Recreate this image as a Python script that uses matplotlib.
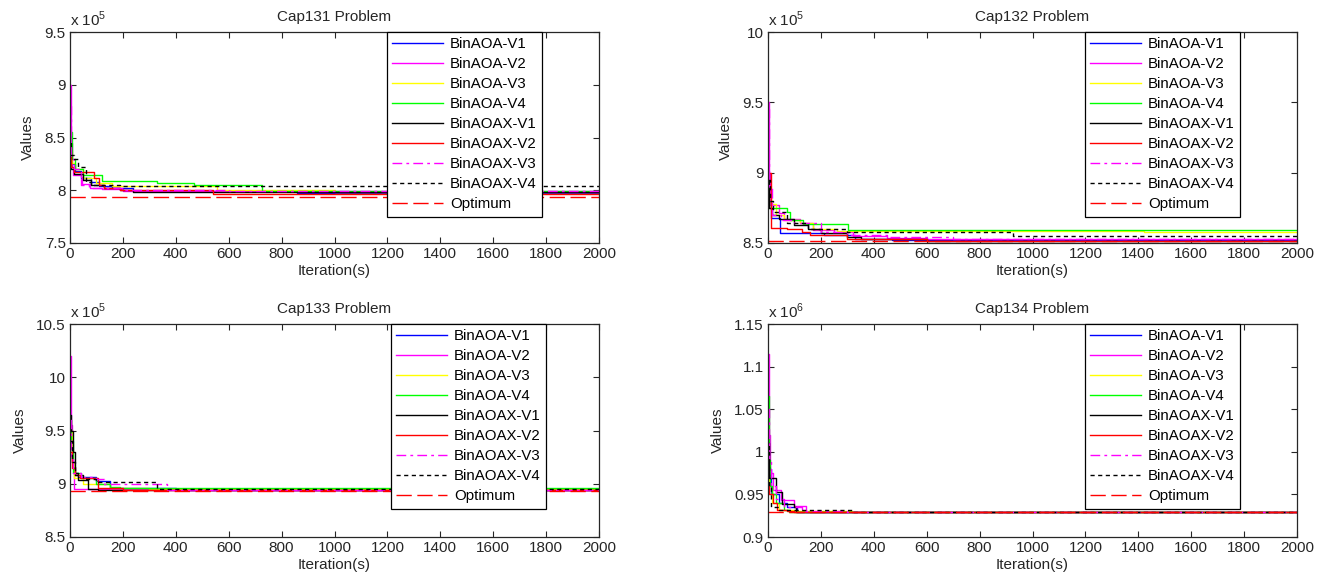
import matplotlib
matplotlib.use('Agg')
import matplotlib.pyplot as plt
from matplotlib.ticker import FuncFormatter

plt.rcParams['font.family'] = ['Liberation Sans', 'DejaVu Sans']
plt.rcParams['font.size'] = 11
plt.rcParams['mathtext.fontset'] = 'custom'
plt.rcParams['mathtext.rm'] = 'Liberation Sans'

MAX_ITER = 2000

labels = ['BinAOA-V1', 'BinAOA-V2', 'BinAOA-V3', 'BinAOA-V4',
          'BinAOAX-V1', 'BinAOAX-V2', 'BinAOAX-V3', 'BinAOAX-V4']
optimum_label = 'Optimum'

titles = ['Cap131 Problem', 'Cap132 Problem', 'Cap133 Problem', 'Cap134 Problem']
optimum = [793439.56, 851495.33, 893076.71, 928941.75]
exponents = [5, 5, 5, 6]
y_limits = [(7.5, 9.5), (8.5, 10.0), (8.5, 10.5), (0.9, 1.15)]
y_ticks = [[7.5, 8, 8.5, 9, 9.5],
           [8.5, 9, 9.5, 10],
           [8.5, 9, 9.5, 10, 10.5],
           [0.9, 0.95, 1, 1.05, 1.1, 1.15]]
x_ticks = list(range(0, 2001, 200))

# best value found so far: (iteration where it changes, new value)
cap131_aoa_v1 = [(0, 842000), (5, 825000), (20, 818000), (40, 812000), (80, 808000), (110, 804000), (160, 802000), (240, 799000), (860, 797500)]
cap131_aoa_v2 = [(0, 900000), (3, 845000), (8, 822000), (12, 814000), (40, 813000), (45, 806000), (75, 802000), (120, 801000), (200, 799000)]
cap131_aoa_v3 = [(0, 838000), (6, 826000), (20, 820000), (50, 812000), (100, 807000), (160, 804500), (555, 800000), (1000, 798500)]
cap131_aoa_v4 = [(0, 855000), (8, 830000), (20, 820000), (50, 814000), (120, 809000), (330, 807000), (470, 805000), (725, 799500)]
cap131_aoax_v1 = [(0, 845000), (4, 820000), (15, 815000), (50, 810000), (80, 805000), (130, 802000), (190, 800000), (240, 798500)]
cap131_aoax_v2 = [(0, 835000), (5, 822000), (15, 817000), (90, 812000), (110, 805000), (130, 802000), (190, 800000), (540, 796300)]
cap131_aoax_v3 = [(0, 880000), (5, 830000), (15, 820000), (40, 805000), (70, 802000), (200, 800000), (600, 799000)]
cap131_aoax_v4 = [(0, 833000), (15, 830000), (30, 822000), (60, 808000), (80, 805000), (190, 804000)]

cap132_aoa_v1 = [(0, 880000), (10, 868000), (44, 857000), (210, 856000), (330, 853000), (470, 852000)]
cap132_aoa_v2 = [(0, 950000), (3, 900000), (8, 877000), (40, 871000), (60, 867000), (120, 864000), (170, 859000), (250, 857500), (320, 855000), (450, 853500), (600, 852500)]
cap132_aoa_v3 = [(0, 885000), (10, 878000), (30, 870000), (60, 866000), (120, 864000), (170, 860000), (260, 858500), (1420, 858000)]
cap132_aoa_v4 = [(0, 880000), (5, 875000), (70, 872000), (82, 866000), (133, 863500), (304, 859500)]
cap132_aoax_v1 = [(0, 900000), (5, 875000), (15, 870000), (40, 867000), (100, 863000), (150, 860000), (200, 857000), (300, 854500), (350, 853000), (600, 851500)]
cap132_aoax_v2 = [(0, 900000), (10, 892000), (12, 861000), (70, 860000), (130, 858000), (160, 855500), (300, 853000), (420, 852500), (600, 851500)]
cap132_aoax_v3 = [(0, 945000), (5, 890000), (15, 870000), (50, 866000), (100, 864000), (200, 858000), (300, 856000), (450, 854000), (700, 852500)]
cap132_aoax_v4 = [(0, 895000), (6, 880000), (20, 872000), (70, 864000), (150, 860000), (300, 857600), (925, 854700)]

cap133_aoa_v1 = [(0, 950000), (6, 920000), (15, 910000), (30, 906000), (100, 903000), (150, 896000), (400, 894500)]
cap133_aoa_v2 = [(0, 1020000), (4, 955000), (8, 920000), (14, 895500), (80, 895000), (400, 894000)]
cap133_aoa_v3 = [(0, 950000), (6, 920000), (15, 905000), (50, 900000), (150, 896000), (300, 895000)]
cap133_aoa_v4 = [(0, 960000), (4, 940000), (10, 910000), (40, 905000), (100, 900000), (150, 897000), (190, 895600)]
cap133_aoax_v1 = [(0, 965000), (5, 950000), (12, 930000), (20, 910000), (30, 903400), (69, 895500), (107, 894500)]
cap133_aoax_v2 = [(0, 930000), (8, 915000), (20, 908000), (38, 905000), (107, 896000), (200, 894000)]
cap133_aoax_v3 = [(0, 960000), (5, 925000), (12, 910000), (40, 906000), (100, 904000), (130, 899300), (366, 894500)]
cap133_aoax_v4 = [(0, 940000), (8, 920000), (20, 908000), (50, 904000), (100, 901800), (330, 895000)]

cap134_aoa_v1 = [(0, 980000), (13, 951000), (40, 940000), (70, 935000), (110, 929000)]
cap134_aoa_v2 = [(0, 1115000), (3, 1020000), (8, 975000), (20, 955000), (48, 943000), (100, 936000), (145, 929000)]
cap134_aoa_v3 = [(0, 970000), (5, 960000), (15, 940000), (40, 932000), (100, 930000), (318, 929000)]
cap134_aoa_v4 = [(0, 1065000), (3, 990000), (8, 960000), (15, 950000), (30, 940000), (60, 932000), (80, 929000)]
cap134_aoax_v1 = [(0, 1010000), (2, 968700), (29, 953000), (54, 938500), (100, 935300), (107, 929000)]
cap134_aoax_v2 = [(0, 960000), (5, 951000), (20, 940000), (35, 932000), (70, 930000), (100, 929000)]
cap134_aoax_v3 = [(0, 1050000), (4, 990000), (10, 960000), (30, 945000), (60, 935000), (130, 930000), (300, 929000)]
cap134_aoax_v4 = [(0, 1000000), (5, 960000), (10, 935000), (40, 932000), (320, 929000)]

problems = [
    [cap131_aoa_v1, cap131_aoa_v2, cap131_aoa_v3, cap131_aoa_v4, cap131_aoax_v1, cap131_aoax_v2, cap131_aoax_v3, cap131_aoax_v4],
    [cap132_aoa_v1, cap132_aoa_v2, cap132_aoa_v3, cap132_aoa_v4, cap132_aoax_v1, cap132_aoax_v2, cap132_aoax_v3, cap132_aoax_v4],
    [cap133_aoa_v1, cap133_aoa_v2, cap133_aoa_v3, cap133_aoa_v4, cap133_aoax_v1, cap133_aoax_v2, cap133_aoax_v3, cap133_aoax_v4],
    [cap134_aoa_v1, cap134_aoa_v2, cap134_aoa_v3, cap134_aoa_v4, cap134_aoax_v1, cap134_aoax_v2, cap134_aoax_v3, cap134_aoax_v4],
]

# matlab-ish line styles
colors = ['#0000ff', '#ff00ff', '#ffff00', '#00ff00', '#000000', '#ff0000', '#ff00ff', '#000000']
styles = ['-', '-', '-', '-', '-', '-', (0, (7, 3, 2, 3)), (0, (3, 2.5))]
opt_style = (0, (11, 4))

# axes boxes in pixels: left, top, right, bottom
W, H = 1331, 577
boxes = [(70, 32, 599, 243), (768, 32, 1297, 243), (70, 324, 599, 537), (768, 324, 1297, 537)]
legend_x = [0.599, 0.599, 0.607, 0.599]
frame = '#262626'


def stepCurve(points, scale):
    its = [p[0] for p in points] + [MAX_ITER]
    vals = [p[1] / scale for p in points] + [points[-1][1] / scale]
    return its, vals


fig = plt.figure(figsize=(W / 100, H / 100), dpi=100)

for k in range(4):
    l, t, r, b = boxes[k]
    ax = fig.add_axes([l / W, 1 - b / H, (r - l) / W, (b - t) / H])
    scale = 10 ** exponents[k]

    for i, series in enumerate(problems[k]):
        its, vals = stepCurve(series, scale)
        ax.plot(its, vals, drawstyle='steps-post', color=colors[i], linestyle=styles[i],
                linewidth=1.0, label=labels[i])
    ax.plot([0, MAX_ITER], [optimum[k] / scale] * 2, color='#ff0000', linestyle=opt_style,
            linewidth=1.0, label=optimum_label)

    ax.set_xlim(0, MAX_ITER)
    ax.set_ylim(*y_limits[k])
    ax.set_xticks(x_ticks)
    ax.set_yticks(y_ticks[k])
    ax.yaxis.set_major_formatter(FuncFormatter(lambda v, p: '%g' % v))
    ax.tick_params(direction='in', top=True, right=True, length=4, width=0.8,
                   colors=frame, labelsize=11, pad=3)
    for s in ax.spines.values():
        s.set_color(frame)
        s.set_linewidth(0.9)

    ax.set_title(titles[k], fontsize=11, color=frame, pad=8)
    ax.set_xlabel('Iteration(s)', fontsize=11, color=frame, labelpad=2)
    ax.set_ylabel('Values', fontsize=11, color=frame, labelpad=7)
    ax.text(0, 1.015, r'x 10$^{\mathregular{%d}}$' % exponents[k], transform=ax.transAxes,
            ha='left', va='bottom', fontsize=11, color=frame)

    leg = ax.legend(loc='upper left', bbox_to_anchor=(legend_x[k], 1.0), borderaxespad=0,
                    fancybox=False, framealpha=1, edgecolor='#000000', fontsize=10.8,
                    handlelength=3.4, handletextpad=0.45, labelspacing=0.4, borderpad=0.35)
    leg.get_frame().set_linewidth(0.9)

fig.savefig('out.png', dpi=100)
